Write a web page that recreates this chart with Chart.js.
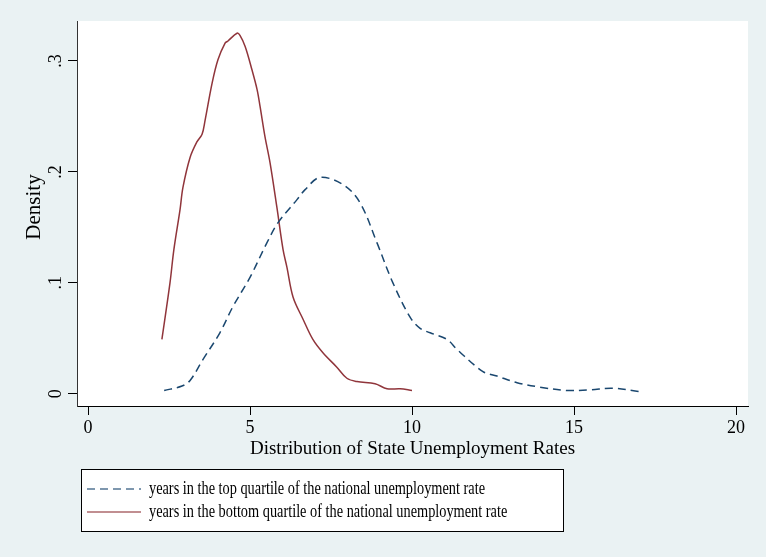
<!DOCTYPE html>
<html>
<head>
<meta charset="utf-8">
<script src="https://cdn.jsdelivr.net/npm/chart.js@4.4.1/dist/chart.umd.min.js"></script>
<style>
  html, body { margin: 0; padding: 0; background: #eaf2f3; }
  #wrap { width: 766px; height: 557px; }
</style>
</head>
<body>
<div id="wrap"><canvas id="chart"></canvas></div>
<script>
// unemployment rate (x) and density (y)
var topX = [2.35, 2.9, 3.15, 3.55, 4.07, 4.48, 5.0, 5.52, 5.86, 6.45, 6.7, 7.16, 7.9, 8.4, 8.92, 9.41, 9.94, 10.25, 10.56, 11.08, 11.39, 12.19, 12.62, 13.24, 13.95, 14.78, 15.5, 16.2, 17.0]
var topY = [0.003, 0.007, 0.012, 0.031, 0.055, 0.079, 0.105, 0.136, 0.154, 0.175, 0.184, 0.195, 0.188, 0.172, 0.136, 0.100, 0.069, 0.059, 0.055, 0.049, 0.040, 0.020, 0.016, 0.010, 0.006, 0.003, 0.0036, 0.005, 0.002]

var botX = [2.28, 2.53, 2.65, 2.84, 2.93, 3.15, 3.36, 3.52, 3.61, 3.83, 4.01, 4.23, 4.32, 4.6, 4.69, 4.85, 5.06, 5.22, 5.31, 5.46, 5.62, 5.83, 6.02, 6.14, 6.33, 6.64, 6.94, 7.25, 7.68, 7.99, 8.3, 8.86, 9.23, 9.63, 10.0]
var botY = [0.049, 0.100, 0.130, 0.166, 0.186, 0.213, 0.227, 0.234, 0.246, 0.280, 0.301, 0.316, 0.318, 0.325, 0.323, 0.313, 0.292, 0.274, 0.259, 0.232, 0.208, 0.168, 0.130, 0.114, 0.087, 0.067, 0.049, 0.037, 0.024, 0.014, 0.011, 0.009, 0.0045, 0.0045, 0.003]

var xTicks = [0, 5, 10, 15, 20]
var yTicks = [0, 0.1, 0.2, 0.3]
var yTickLabels = ['0', '.1', '.2', '.3']
var seriesNames = [
  'years in the top quartile of the national unemployment rate',
  'years in the bottom quartile of the national unemployment rate'
]

function toPoints(xs, ys) {
  var pts = []
  for (var i = 0; i < xs.length; i++) pts.push({ x: xs[i], y: ys[i] })
  return pts
}

var serif = '"Liberation Serif", "Times New Roman", serif'

// light blue page, white plot region
var backdrop = {
  id: 'backdrop',
  beforeDraw: function (chart) {
    var ctx = chart.ctx, a = chart.chartArea
    ctx.save()
    ctx.fillStyle = '#eaf2f3'
    ctx.fillRect(0, 0, chart.width, chart.height)
    ctx.fillStyle = '#ffffff'
    ctx.fillRect(a.left, a.top, a.right - a.left, a.bottom - a.top)
    ctx.restore()
  }
}

// rotated y labels/title and the boxed legend, Stata style
var extras = {
  id: 'extras',
  afterDraw: function (chart) {
    var ctx = chart.ctx
    var y = chart.scales.y
    ctx.save()
    ctx.fillStyle = '#000'
    ctx.font = '18px ' + serif
    ctx.textAlign = 'center'
    ctx.textBaseline = 'alphabetic'
    for (var i = 0; i < yTicks.length; i++) {
      ctx.save()
      ctx.translate(61, y.getPixelForValue(yTicks[i]))
      ctx.rotate(-Math.PI / 2)
      ctx.fillText(yTickLabels[i], 0, 0)
      ctx.restore()
    }
    ctx.save()
    ctx.translate(40, 207)
    ctx.rotate(-Math.PI / 2)
    ctx.font = '21px ' + serif
    ctx.fillText('Density', 0, 0)
    ctx.restore()

    // legend box
    ctx.fillStyle = '#fff'
    ctx.fillRect(81, 469, 482, 62)
    ctx.strokeStyle = '#000'
    ctx.lineWidth = 1
    ctx.strokeRect(81.5, 469.5, 482, 62)
    var rows = [489, 512]
    ctx.font = '18px ' + serif
    var squeeze = 336 / ctx.measureText(seriesNames[0]).width
    chart.data.datasets.forEach(function (ds, k) {
      ctx.beginPath()
      ctx.setLineDash(ds.borderDash || [])
      ctx.strokeStyle = ds.borderColor
      ctx.globalAlpha = 0.75
      ctx.lineWidth = 1.5
      ctx.moveTo(87, rows[k])
      ctx.lineTo(141, rows[k])
      ctx.stroke()
      ctx.globalAlpha = 1
      ctx.setLineDash([])
      ctx.fillStyle = '#000'
      ctx.textAlign = 'left'
      ctx.textBaseline = 'middle'
      ctx.save()
      ctx.translate(149, rows[k])
      ctx.scale(squeeze, 1)
      ctx.fillText(ds.label, 0, 0)
      ctx.restore()
    })
    ctx.restore()
  }
}

new Chart(document.getElementById('chart'), {
  type: 'line',
  data: {
    datasets: [
      {
        label: seriesNames[0],
        data: toPoints(topX, topY),
        borderColor: '#1a476f',
        borderWidth: 1.5,
        borderDash: [8, 5],
        pointRadius: 0,
        tension: 0.35,
        fill: false
      },
      {
        label: seriesNames[1],
        data: toPoints(botX, botY),
        borderColor: '#90353b',
        borderWidth: 1.5,
        pointRadius: 0,
        tension: 0.35,
        fill: false
      }
    ]
  },
  options: {
    responsive: true,
    maintainAspectRatio: false,
    animation: false,
    layout: { padding: { left: 0, top: 21, right: 18, bottom: 91 } },
    plugins: {
      legend: { display: false },
      tooltip: { enabled: false }
    },
    scales: {
      x: {
        type: 'linear',
        min: -0.34,
        max: 20.37,
        afterBuildTicks: function (scale) {
          scale.ticks = xTicks.map(function (v) { return { value: v } })
        },
        afterFit: function (scale) { scale.height = 60 },
        ticks: {
          color: '#000',
          padding: 2,
          maxRotation: 0,
          font: { family: serif, size: 18 }
        },
        grid: { drawOnChartArea: false, drawTicks: true, tickLength: 9, tickColor: '#000' },
        border: { display: true, color: '#000', width: 1 },
        title: {
          display: true,
          text: 'Distribution of State Unemployment Rates',
          color: '#000',
          padding: { top: 0, bottom: 6 },
          font: { family: serif, size: 19 }
        }
      },
      y: {
        type: 'linear',
        min: -0.011,
        max: 0.336,
        afterBuildTicks: function (scale) {
          scale.ticks = yTicks.map(function (v) { return { value: v } })
        },
        afterFit: function (scale) { scale.width = 77 },
        ticks: { display: false },
        grid: { drawOnChartArea: false, drawTicks: true, tickLength: 9, tickColor: '#000' },
        border: { display: true, color: '#333', width: 1 },
        title: { display: false }
      }
    }
  },
  plugins: [backdrop, extras]
})
</script>
</body>
</html>
